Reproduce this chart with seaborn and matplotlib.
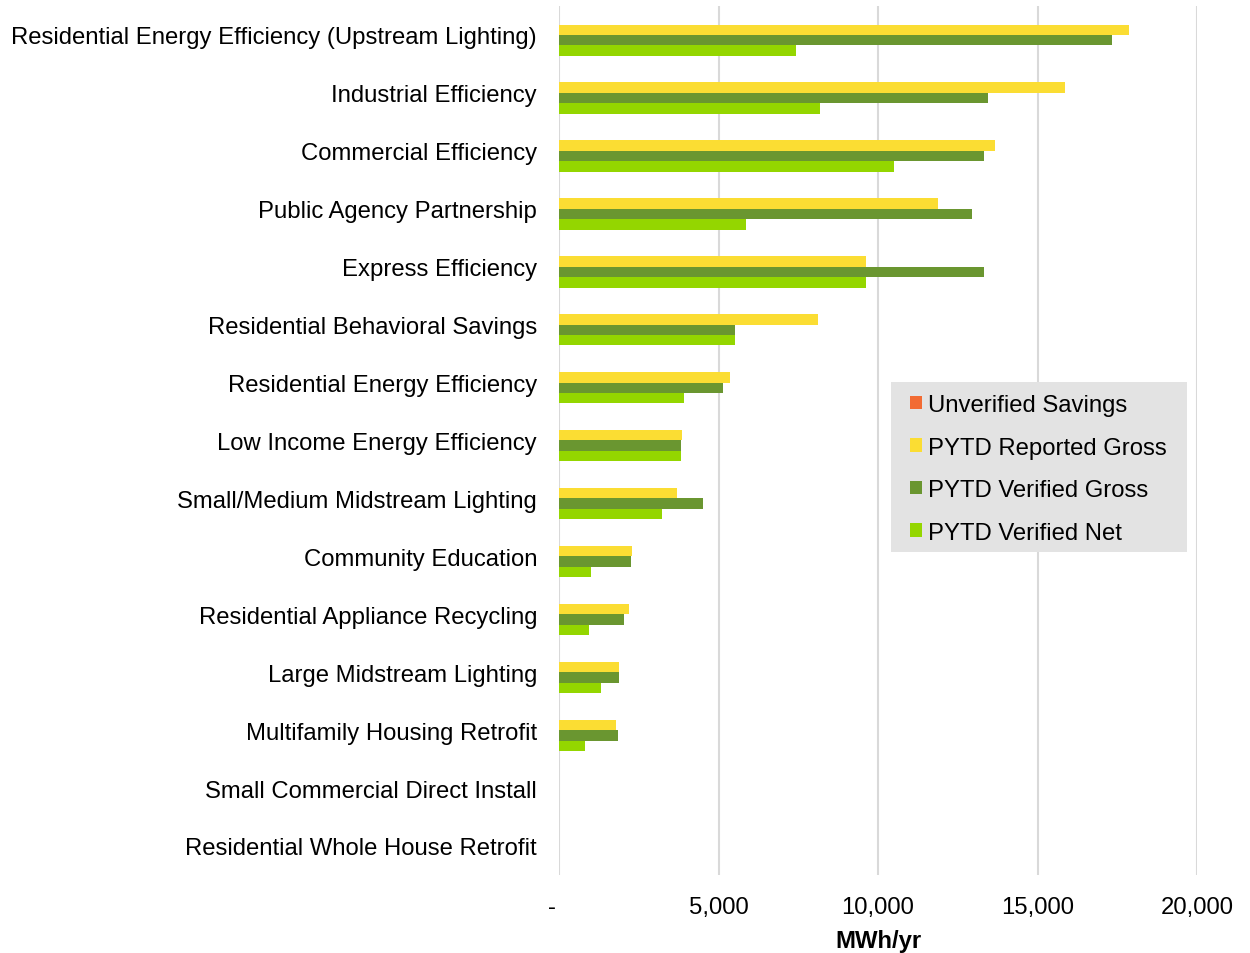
import matplotlib
matplotlib.use("Agg")
import matplotlib.pyplot as plt
import seaborn as sns
import pandas as pd
from matplotlib.patches import Rectangle
from matplotlib.ticker import FuncFormatter

# --- Data (MWh/yr) ---
programs = [
    "Residential Energy Efficiency (Upstream Lighting)",
    "Industrial Efficiency",
    "Commercial Efficiency",
    "Public Agency Partnership",
    "Express Efficiency",
    "Residential Behavioral Savings",
    "Residential Energy Efficiency",
    "Low Income Energy Efficiency",
    "Small/Medium Midstream Lighting",
    "Community Education",
    "Residential Appliance Recycling",
    "Large Midstream Lighting",
    "Multifamily Housing Retrofit",
    "Small Commercial Direct Install",
    "Residential Whole House Retrofit",
]
unverified_savings = [0, 0, 0, 0, 0, 0, 0, 0, 0, 0, 0, 0, 0, 0, 0]
reported_gross = [17880, 15850, 13670, 11880, 9610, 8130, 5370, 3870, 3690, 2300, 2190, 1880, 1790, 0, 0]
verified_gross = [17330, 13460, 13330, 12940, 13320, 5520, 5130, 3830, 4510, 2260, 2050, 1870, 1840, 0, 0]
verified_net = [7430, 8170, 10500, 5860, 9610, 5520, 3910, 3830, 3220, 1010, 950, 1330, 820, 0, 0]

series_names = ["Unverified Savings", "PYTD Reported Gross", "PYTD Verified Gross", "PYTD Verified Net"]
series_colors = ["#F26B33", "#FBDD33", "#6A9630", "#94D600"]

# --- Long-form table for seaborn ---
frames = []
for name, vals in zip(series_names, [unverified_savings, reported_gross, verified_gross, verified_net]):
    frames.append(pd.DataFrame({"program": programs, "series": name, "value": vals}))
df = pd.concat(frames, ignore_index=True)

# --- Plot ---
sns.set_style("white")
plt.rcParams["font.family"] = ["Liberation Sans", "DejaVu Sans"]
plt.rcParams["text.color"] = "black"
plt.rcParams["axes.labelcolor"] = "black"
plt.rcParams["xtick.color"] = "black"
plt.rcParams["ytick.color"] = "black"
fs = 17.2

fig = plt.figure(figsize=(12.5, 9.54), dpi=100)
ax = fig.add_axes([0.4472, 0.0818, 0.5104, 0.9109])

sns.barplot(
    data=df, y="program", x="value", hue="series",
    order=programs, hue_order=series_names,
    palette=series_colors, saturation=1, orient="h", width=0.72,
    linewidth=0, errorbar=None, ax=ax,
)

ax.set_xlim(0, 20000)
ax.set_ylim(len(programs) - 0.5, -0.5)
ax.set_xticks([0, 5000, 10000, 15000, 20000])
# accounting-style zero: dash sits a little left of the tick
ax.xaxis.set_major_formatter(FuncFormatter(lambda v, p: "-  " if v == 0 else f"{v:,.0f}"))
ax.grid(axis="x", color="#D9D9D9", linewidth=1.5)
ax.set_axisbelow(True)
for s in ax.spines.values():
    s.set_visible(False)

ax.tick_params(axis="y", length=0, pad=15.8, labelsize=fs)
ax.tick_params(axis="x", length=0, pad=15, labelsize=fs)
ax.set_ylabel("")
ax.set_xlabel("MWh/yr", fontsize=fs, fontweight="bold", labelpad=8)

# legend box drawn separately for uneven padding
ax.add_patch(Rectangle((0.5204, 0.3717), 0.4639, 0.1956, transform=ax.transAxes,
                       facecolor="#E3E3E3", edgecolor="none", zorder=5))
leg = ax.legend(
    loc="upper left", bbox_to_anchor=(0.550, 0.5535),
    fontsize=fs, frameon=False, handlelength=0.5, handleheight=0.5,
    handletextpad=0.25, labelspacing=0.86, borderpad=0, borderaxespad=0,
)
leg.set_zorder(6)

fig.savefig("out.png", dpi=100)
